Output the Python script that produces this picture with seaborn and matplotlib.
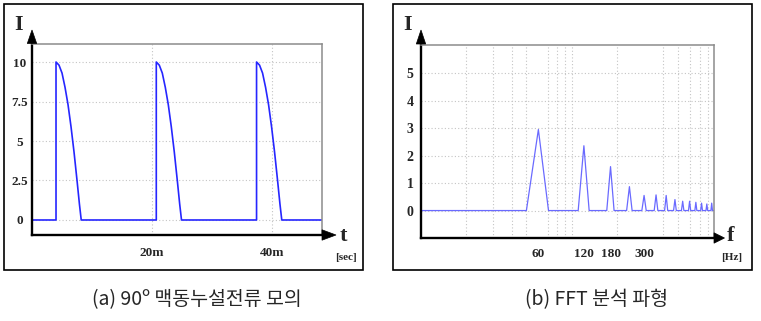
import numpy as np
import pandas as pd
import matplotlib
matplotlib.use("Agg")
import matplotlib.pyplot as plt
from matplotlib.patches import Rectangle, Polygon
import seaborn as sns

# ---------------- data ----------------
# (a) pulsating leakage current (time in ms, current in A)
pulse_starts_ms = [4.0, 20.7, 37.4]
pulse_offsets_ms = [0.0, 0.5, 1.0, 1.5, 2.0, 2.5, 3.0, 3.5, 3.9, 4.2]
pulse_values = [10.0, 9.8, 9.3, 8.4, 7.3, 5.9, 4.3, 2.5, 1.0, 0.0]
t_end_ms = 48.3
time_ticks = [20, 40]
time_tick_labels = ["20m", "40m"]
current_ticks_a = [0, 2.5, 5, 7.5, 10]
current_tick_labels_a = ["0", "2.5", "5", "7.5", "10"]

# (b) FFT spectrum (frequency in Hz, amplitude)
harmonics_hz = [60, 120, 180, 240, 300, 360, 420, 480, 540, 600, 660, 720, 780, 840]
harmonic_amps = [2.95, 2.36, 1.6, 0.87, 0.55, 0.57, 0.55, 0.40, 0.34, 0.34, 0.30, 0.27, 0.24, 0.27]
freq_step_hz = 10
freq_start_hz = 10
freq_end_hz = 870
freq_ticks = [60, 120, 180, 300]
freq_tick_labels = ["60", "120", "180", "300"]
freq_grid = [20, 30, 40, 50, 60, 70, 80, 90, 100, 200, 300, 400, 500, 600, 700, 800]
amp_ticks = [0, 1, 2, 3, 4, 5]

caption_a = "(a) 90º 맥동누설전류 모의"
caption_b = "(b) FFT 분석 파형"

# ---------------- build polylines ----------------
t_pts, i_pts = [0.0], [0.0]
for s in pulse_starts_ms:
    t_pts.append(s); i_pts.append(0.0)
    for d, v in zip(pulse_offsets_ms, pulse_values):
        t_pts.append(s + d); i_pts.append(v)
t_pts.append(t_end_ms); i_pts.append(0.0)
df_t = pd.DataFrame({"t": t_pts, "I": i_pts})

f_pts, a_pts = [freq_start_hz], [0.0]
for h, a in zip(harmonics_hz, harmonic_amps):
    f_pts += [h - freq_step_hz, h, h + freq_step_hz]
    a_pts += [0.0, a, 0.0]
f_pts.append(freq_end_hz); a_pts.append(0.0)
df_f = pd.DataFrame({"f": f_pts, "A": a_pts})

# ---------------- figure ----------------
sns.set_style("white")
plt.rcParams["font.family"] = ["Liberation Serif", "DejaVu Serif"]

W, H = 761, 321
fig = plt.figure(figsize=(W / 100, H / 100), dpi=100)
fig.patch.set_facecolor("white")

def fx(x):
    return x / W

def fy(y):
    return 1 - y / H

def axes_rect(x0, y0, x1, y1):
    return [fx(x0), fy(y1), fx(x1) - fx(x0), fy(y0) - fy(y1)]

ax1 = fig.add_axes(axes_rect(32, 44, 322, 235))
ax2 = fig.add_axes(axes_rect(420.7, 45, 714, 238))

grid_kw = dict(color="#c4c4c4", linestyle=(0, (1, 2)), linewidth=0.8)
tick_font = dict(family="Liberation Serif", weight="bold", size=9.5)

def style_axes(ax):
    for side in ["left", "bottom"]:
        ax.spines[side].set_color("black")
        ax.spines[side].set_linewidth(1.7)
    for side in ["top", "right"]:
        ax.spines[side].set_color("#8c8c8c")
        ax.spines[side].set_linewidth(1.1)
    ax.tick_params(which="both", length=0)
    ax.set_xlabel("")
    ax.set_ylabel("")

# (a)
sns.lineplot(data=df_t, x="t", y="I", ax=ax1, estimator=None, sort=False,
             color="#2626ff", linewidth=1.2)
ax1.set_xlim(0, t_end_ms)
ax1.set_ylim(-0.95, 11.14)
ax1.set_xticks(time_ticks)
ax1.set_xticklabels(time_tick_labels, fontdict=tick_font)
ax1.set_yticks(current_ticks_a)
ax1.set_yticklabels(current_tick_labels_a, fontdict=tick_font)
ax1.grid(True, **grid_kw)
style_axes(ax1)
ax1.tick_params(axis="y", pad=8.6)
ax1.tick_params(axis="x", pad=9)
for lab in ax1.get_yticklabels():
    lab.set_horizontalalignment("center")

# (b)
sns.lineplot(data=df_f, x="f", y="A", ax=ax2, estimator=None, sort=False,
             color="#6a6aff", linewidth=0.9)
ax2.set_xscale("log")
ax2.set_xlim(freq_start_hz, freq_end_hz)
ax2.set_ylim(-1.0, 6.03)
ax2.set_xticks(freq_ticks)
ax2.set_xticklabels(freq_tick_labels, fontdict=tick_font)
ax2.set_xticks(freq_grid, minor=True)
ax2.set_xticklabels([], minor=True)
ax2.set_yticks(amp_ticks)
ax2.set_yticklabels([str(v) for v in amp_ticks], fontdict=dict(tick_font, size=10))
ax2.grid(False)
ax2.grid(True, axis="y", which="major", **grid_kw)
ax2.grid(True, axis="x", which="minor", **grid_kw)
style_axes(ax2)
ax2.tick_params(axis="y", pad=7.7)
ax2.tick_params(axis="x", pad=7)
for lab in ax2.get_yticklabels():
    lab.set_horizontalalignment("center")

# outer frames
for (x0, y0, x1, y1) in [(4, 4, 363, 270), (393, 4, 752, 270)]:
    fig.add_artist(Rectangle((fx(x0), fy(y1)), fx(x1) - fx(x0), fy(y0) - fy(y1),
                             transform=fig.transFigure, fill=False,
                             edgecolor="black", linewidth=1.2))

# axis arrows
def tri(pts):
    fig.add_artist(Polygon([(fx(x), fy(y)) for x, y in pts], closed=True,
                           transform=fig.transFigure, facecolor="black",
                           edgecolor="black", linewidth=0.5))

tri([(32, 30), (27.3, 43.5), (36.7, 43.5)])
tri([(322, 229.8), (322, 240.2), (336, 235)])
tri([(421, 30), (416.3, 44), (425.7, 44)])
tri([(714, 232.8), (714, 243.2), (724.5, 238)])

# axis letters
big = dict(family="Liberation Serif", weight="bold", size=16, ha="center", va="center")
small = dict(family="Liberation Serif", weight="bold", size=8, ha="center", va="center")
fig.text(fx(19), fy(25), "I", **big)
fig.text(fx(343), fy(236), "t", **big)
fig.text(fx(345.5), fy(257.5), "[sec]", **small)
fig.text(fx(408), fy(24.5), "I", **big)
fig.text(fx(731), fy(236), "f", **big)
fig.text(fx(731.5), fy(257.5), "[Hz]", **small)

# captions
cap = dict(family=["Noto Sans CJK KR", "DejaVu Sans"], size=14, ha="center", va="center")
fig.text(fx(196.5), fy(299.5), caption_a, **cap)
fig.text(fx(596.5), fy(299.5), caption_b, **cap)

fig.savefig("out.png", dpi=100)
